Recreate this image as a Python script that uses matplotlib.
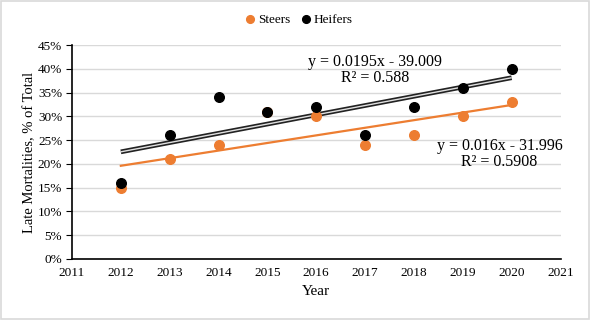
import matplotlib
matplotlib.use("Agg")
import matplotlib.pyplot as plt
import numpy as np
from matplotlib.ticker import PercentFormatter

years = [2012, 2013, 2014, 2015, 2016, 2017, 2018, 2019, 2020]
steers = [15, 21, 24, 31, 30, 24, 26, 30, 33]
heifers = [16, 26, 34, 31, 32, 26, 32, 36, 40]
steer_eq = "y = 0.016x - 31.996\nR² = 0.5908"
heifer_eq = "y = 0.0195x - 39.009\nR² = 0.588"

plt.rcParams['font.family'] = ['Liberation Serif', 'DejaVu Serif']

fig = plt.figure(figsize=(5.9, 3.2), dpi=100)
ax = fig.add_axes([0.122, 0.191, 0.828, 0.668])

orange = '#ED7D31'
x = np.array(years, dtype=float)

# trendlines
cs = np.polyfit(x, steers, 1)
ch = np.polyfit(x, heifers, 1)
ax.plot(x[[0, -1]], np.polyval(cs, x[[0, -1]]), color=orange, lw=1.6, zorder=2)
ax.plot(x[[0, -1]], np.polyval(ch, x[[0, -1]]), color='#222222', lw=3.4, zorder=2,
        solid_capstyle='butt')
ax.plot(x[[0, -1]], np.polyval(ch, x[[0, -1]]), color='#e0e0e0', lw=1.0, zorder=2,
        solid_capstyle='butt')

ax.scatter(years, steers, s=48, color=orange, zorder=3, label='Steers')
ax.scatter(years, heifers, s=48, color='black', zorder=4, label='Heifers')

ax.set_xlim(2011, 2021)
ax.set_ylim(0, 45)
ax.set_xticks(range(2011, 2022))
ax.set_yticks(range(0, 46, 5))
ax.yaxis.set_major_formatter(PercentFormatter(decimals=0))
ax.grid(axis='y', color='#d9d9d9', lw=1)
ax.set_axisbelow(True)
for s in ['top', 'right']:
    ax.spines[s].set_visible(False)
ax.spines['left'].set_linewidth(1.2)
ax.spines['bottom'].set_linewidth(1.2)
ax.tick_params(axis='x', length=0, labelsize=9.5, pad=6)
ax.tick_params(axis='y', length=4, labelsize=9.5, direction='out', pad=3)

ax.set_xlabel('Year', fontsize=11, labelpad=4)
ax.set_ylabel('Late Mortalities, % of Total', fontsize=10.5, labelpad=1)

ax.text(2017.2, 43.2, heifer_eq, ha='center', va='top', fontsize=11.5, linespacing=1.0)
ax.text(2019.75, 25.4, steer_eq, ha='center', va='top', fontsize=11.5, linespacing=1.0)

fig.legend(loc='upper center', bbox_to_anchor=(0.5, 0.995), ncol=2, frameon=False,
           fontsize=9.5, handletextpad=-0.4, columnspacing=0.2, markerscale=0.8)

fig.patches.append(plt.Rectangle((0.002, 0.003), 0.996, 0.994, transform=fig.transFigure,
                                 fill=False, edgecolor='#d9d9d9', lw=1.2))

fig.savefig('out.png', dpi=100)
